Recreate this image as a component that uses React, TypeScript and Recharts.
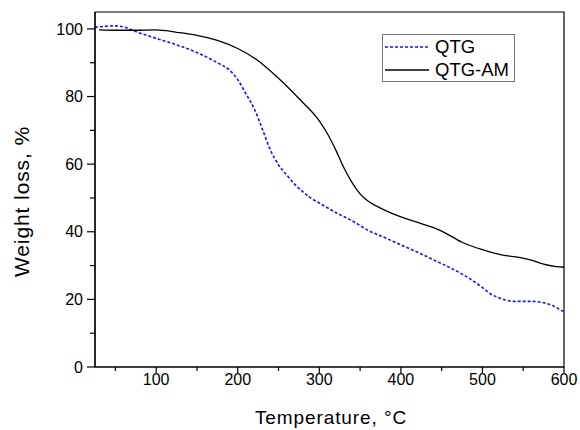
import React from "react";
import { LineChart, Line, XAxis, YAxis, ReferenceArea } from "recharts";

const qtgTemps = [25, 40, 50, 60, 75, 100, 125, 150, 175, 190, 200, 210, 220, 230, 240, 250, 260, 270, 280, 290, 300, 320, 340, 360, 380, 400, 420, 440, 460, 480, 500, 510, 520, 540, 560, 580, 600];
const qtgValues = [100.5, 100.8, 100.9, 100.6, 99.2, 97.2, 95.3, 93.0, 90.0, 87.8, 85.0, 80.8, 76.5, 70.5, 64.2, 59.8, 56.8, 54.0, 51.8, 49.9, 48.5, 45.7, 43.3, 40.4, 38.3, 36.1, 34.0, 31.7, 29.4, 26.8, 23.5, 21.6, 20.5, 19.4, 19.4, 18.7, 16.3];

const amTemps = [30, 50, 75, 100, 125, 150, 175, 200, 225, 250, 275, 300, 310, 320, 330, 340, 350, 360, 375, 400, 425, 450, 475, 500, 525, 545, 560, 575, 590, 600];
const amValues = [99.7, 99.6, 99.6, 99.7, 99.0, 98.1, 96.6, 94.2, 90.6, 85.4, 79.4, 72.8, 69.0, 64.3, 59.0, 54.6, 51.2, 49.0, 47.0, 44.4, 42.4, 40.2, 36.9, 34.7, 33.1, 32.4, 31.6, 30.4, 29.7, 29.5];

const xTicks = [50, 100, 150, 200, 250, 300, 350, 400, 450, 500, 550, 600];
const xLabeled = [100, 200, 300, 400, 500, 600];
const yTicks = [0, 10, 20, 30, 40, 50, 60, 70, 80, 90, 100];
const yLabeled = [0, 20, 40, 60, 80, 100];

const seriesNames = ["QTG", "QTG-AM"];

const qtgData = qtgTemps.map((t, i) => ({ t, w: qtgValues[i] }));
const amData = amTemps.map((t, i) => ({ t, w: amValues[i] }));

const FONT = "Arial, 'Liberation Sans', sans-serif";

const X_TICK_SIZE = 6;
const X_TICK_MARGIN = 1;
const Y_TICK_SIZE = 8;
const Y_TICK_MARGIN = 4;

const XTick = (props: any) => {
  const { x, y, payload } = props;
  const axisY = y - X_TICK_SIZE - X_TICK_MARGIN;
  const major = xLabeled.includes(payload.value);
  const len = major ? X_TICK_SIZE : 4;
  return (
    <g>
      <line x1={x} x2={x} y1={axisY} y2={axisY + len} stroke="#000" strokeWidth={1.2} />
      {major && (
        <text x={x} y={y} dy="0.71em" textAnchor="middle" fontSize={16} fontFamily={FONT} fill="#000">
          {payload.value}
        </text>
      )}
    </g>
  );
};

const YTick = (props: any) => {
  const { x, y, payload } = props;
  const axisX = x + Y_TICK_SIZE + Y_TICK_MARGIN;
  const major = yLabeled.includes(payload.value);
  const len = major ? Y_TICK_SIZE : 5;
  return (
    <g>
      <line x1={axisX - len} x2={axisX} y1={y} y2={y} stroke="#000" strokeWidth={1.2} />
      {major && (
        <text x={x} y={y} dy="0.355em" textAnchor="end" fontSize={16} fontFamily={FONT} fill="#000">
          {payload.value}
        </text>
      )}
    </g>
  );
};

const XTitle = (props: any) => {
  const vb = props.viewBox || { x: 0, y: 0, width: 0, height: 0 };
  return (
    <text
      x={vb.x + vb.width / 2 + 1.5}
      y={vb.y + 57}
      textAnchor="middle"
      fontSize={19}
      letterSpacing={0.9}
      fontFamily={FONT}
      fill="#000"
    >
      Temperature, °C
    </text>
  );
};

const YTitle = (props: any) => {
  const vb = props.viewBox || { x: 0, y: 0, width: 0, height: 0 };
  const cx = vb.x + 29;
  const cy = vb.y + vb.height / 2 + 12;
  return (
    <text
      x={cx}
      y={cy}
      transform={`rotate(-90 ${cx} ${cy})`}
      textAnchor="middle"
      fontSize={21}
      letterSpacing={0.9}
      fontFamily={FONT}
      fill="#000"
    >
      Weight loss, %
    </text>
  );
};

export default function App() {
  return (
    <div style={{ position: "absolute", left: 0, top: 0, width: 580, height: 430, background: "#fff" }}>
      <LineChart width={580} height={430} margin={{ top: 12, right: 16, left: 0, bottom: 0 }}>
        <XAxis
          dataKey="t"
          type="number"
          domain={[25, 600]}
          ticks={xTicks}
          allowDuplicatedCategory={false}
          height={63}
          tickSize={X_TICK_SIZE}
          tickMargin={X_TICK_MARGIN}
          tickLine={false}
          tick={<XTick />}
          axisLine={{ stroke: "#000", strokeWidth: 1.2 }}
          label={<XTitle />}
          interval={0}
        />
        <YAxis
          dataKey="w"
          type="number"
          domain={[0, 105]}
          ticks={yTicks}
          width={95}
          tickSize={Y_TICK_SIZE}
          tickMargin={Y_TICK_MARGIN}
          tickLine={false}
          tick={<YTick />}
          axisLine={{ stroke: "#000", strokeWidth: 1.2 }}
          label={<YTitle />}
          interval={0}
        />
        <ReferenceArea x1={25} x2={600} y1={0} y2={105} fill="none" stroke="#000" strokeWidth={1.2} ifOverflow="visible" />
        <Line
          data={qtgData}
          dataKey="w"
          name={seriesNames[0]}
          type="monotone"
          stroke="#1515ff"
          strokeWidth={1.6}
          strokeDasharray="3 2"
          dot={false}
          isAnimationActive={false}
        />
        <Line
          data={amData}
          dataKey="w"
          name={seriesNames[1]}
          type="monotone"
          stroke="#000"
          strokeWidth={1.3}
          dot={false}
          isAnimationActive={false}
        />
      </LineChart>
      <div
        style={{
          position: "absolute",
          left: 382,
          top: 34,
          width: 131,
          height: 46,
          border: "1px solid #777",
          background: "#fff",
          fontFamily: FONT,
          fontSize: 18.5,
          color: "#000",
        }}
      >
        {seriesNames.map((n, i) => (
          <div key={n} style={{ position: "absolute", left: 0, top: i === 0 ? 1 : 24, height: 22, width: 131, display: "flex", alignItems: "center" }}>
            <svg width={50} height={22} style={{ display: "block" }}>
              {i === 0 ? (
                <line x1={2} x2={46} y1={11} y2={11} stroke="#1515ff" strokeWidth={1.6} strokeDasharray="3 2" />
              ) : (
                <line x1={2} x2={46} y1={11} y2={11} stroke="#000" strokeWidth={1.3} />
              )}
            </svg>
            <span style={{ marginLeft: 2, lineHeight: "22px" }}>{n}</span>
          </div>
        ))}
      </div>
    </div>
  );
}
